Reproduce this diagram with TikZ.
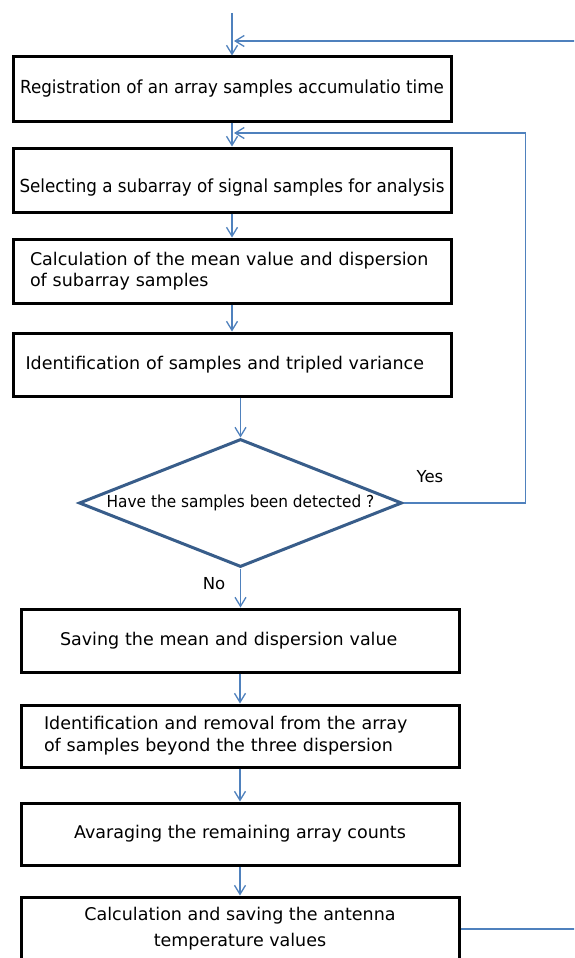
\documentclass[tikz,border=0pt]{standalone}
\usepackage{fontspec}
\setmainfont{DejaVu Sans}
\newfontfamily\condfont[FakeStretch=0.93]{DejaVu Sans}
\usetikzlibrary{arrows.meta,shapes.geometric}
\definecolor{arrowblue}{RGB}{79,129,189}
\definecolor{diablue}{RGB}{56,93,138}
\begin{document}
\begin{tikzpicture}[x=1pt,y=-1pt,
  box/.style={draw=black,line width=3pt,minimum width=438pt,minimum height=64pt,inner sep=0pt},
  txt/.style={font=\fontsize{17.5}{21}\selectfont},
  cond/.style={font=\condfont\fontsize{18}{22}\selectfont},
  dia/.style={diamond,draw=diablue,line width=3pt,minimum width=323pt,minimum height=128pt,aspect=2.52,inner sep=0pt,font=\condfont\fontsize{16.5}{20}\selectfont},
  conn/.style={draw=arrowblue,line width=1.3pt,-{Straight Barb[length=9pt,width=11pt]}},
  lab/.style={font=\fontsize{16.5}{20}\selectfont}]
\clip (0,0) rectangle (574,958);
\fill[white] (0,0) rectangle (574,958);
\node[box,cond] (b1) at (232,89) {Registration of an array samples accumulatio time};
\node[box,cond,text height=28pt,text depth=4pt] (b2) at (232,180) {Selecting a subarray of signal samples for analysis};
\node[box,txt,text width=404pt,align=left] (b3) at (232,271) {Calculation of the mean value and dispersion\\of subarray samples};
\node[box,txt,text width=413pt,align=left,minimum height=63pt] (b4) at (232,364.5) {Identification of samples and tripled variance};
\node[dia] (d) at (240.5,503) {Have the samples been detected ?};
\node[box,txt,text width=360pt,align=left,minimum height=63pt] (b5) at (240,640.5) {Saving the mean and dispersion value};
\node[box,text width=392pt,align=left,minimum height=62pt,font=\fontsize{17.5}{22}\selectfont] (b6) at (240,736) {Identification and removal from the array\\of samples beyond the three dispersion};
\node[box,txt,align=center,minimum height=62pt] (b7) at (240,834) {Avaraging the remaining array counts};
\node[box,align=center,font=\fontsize{17.5}{26}\selectfont] (b8) at (240,929) {Calculation and saving the antenna\\temperature values};
\node[lab] (yes) at (430,477) {Yes};
\node[lab] (no) at (214,584) {No};
\coordinate (in) at (232,13);
\coordinate (j1) at (234,41);
\coordinate (j2) at (234,133);
\draw[conn] (in) -- (b1.north);
\draw[conn] (b8.east) -- ++(150,0) |- (j1);
\draw[conn] (b1.south) -- (b2.north);
\draw[conn] (d.east) -- ++(122,0) |- (j2);
\draw[conn] (b2.south) -- (b3.north);
\draw[conn] (b3.south) -- (b4.north);
\draw[conn] (d.north |- b4.south) -- (d.north);
\draw[conn] (d.south) -- (d.south |- b5.north);
\draw[conn] (b5.south) -- (b6.north);
\draw[conn] (b6.south) -- (b7.north);
\draw[conn] (b7.south) -- (b8.north);
\end{tikzpicture}
\end{document}
